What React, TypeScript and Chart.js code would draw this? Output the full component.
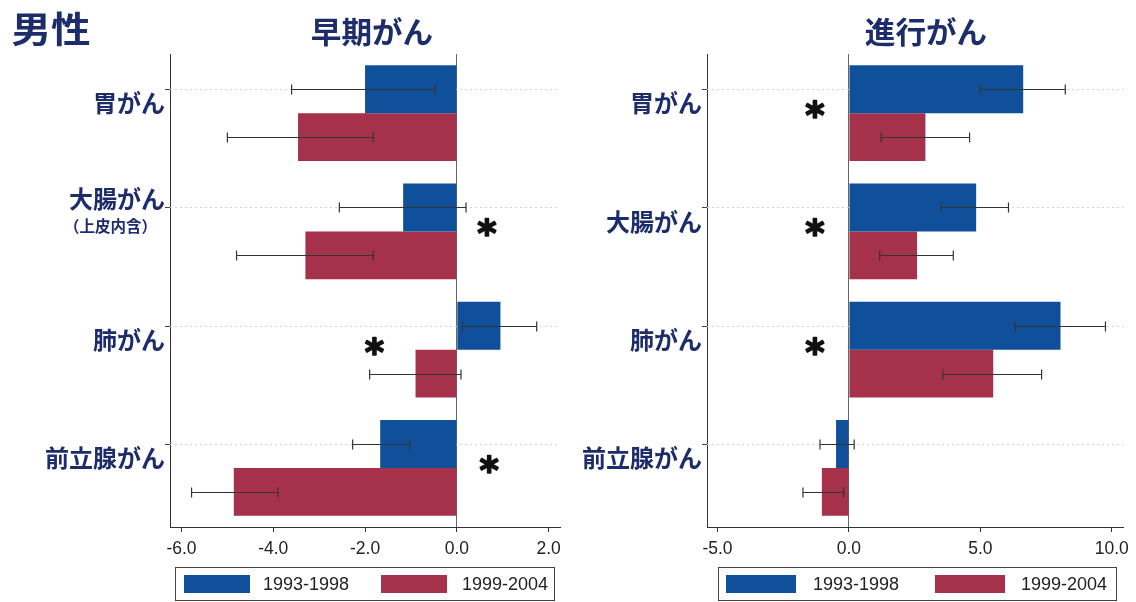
import React, { useEffect, useRef } from 'react';
import { Chart, registerables } from 'chart.js';

Chart.register(...registerables);

// Cancer sites and periods
const categories = ['胃がん', '大腸がん', '肺がん', '前立腺がん'];
const earlySubLabels = ['', '（上皮内含）', '', ''];
const advancedSubLabels = ['', '', '', ''];
const periods = ['1993-1998', '1999-2004'];

// 早期がん: annual percent change with 95% CI
const earlyP1 = [-2.0, -1.17, 0.95, -1.67];
const earlyP1Lo = [-3.6, -2.56, 0.12, -2.27];
const earlyP1Hi = [-0.47, 0.2, 1.74, -1.02];
const earlyP2 = [-3.46, -3.3, -0.9, -4.86];
const earlyP2Lo = [-5.0, -4.8, -1.9, -5.78];
const earlyP2Hi = [-1.82, -1.82, 0.09, -3.9];
// x position of the significance mark (null = not significant)
const earlySig: (number | null)[] = [null, 0.65, -1.8, 0.7];

// 進行がん
const advP1 = [6.63, 4.84, 8.05, -0.49];
const advP1Lo = [4.99, 3.52, 6.32, -1.1];
const advP1Hi = [8.23, 6.07, 9.76, 0.2];
const advP2 = [2.91, 2.59, 5.49, -1.03];
const advP2Lo = [1.23, 1.17, 3.57, -1.75];
const advP2Hi = [4.59, 3.97, 7.33, -0.2];
const advSig: (number | null)[] = [-1.3, -1.3, -1.3, null];

// axis ranges
const earlyMin = -6.25;
const earlyMax = 2.25;
const earlyStep = 2;
const advMin = -5.4;
const advMax = 10.45;
const advStep = 5;

const NAVY = '#1d2d6b';
const BLUE = '#10509a';
const RED = '#a5314b';
const JP_FONT = '"Noto Sans CJK JP", "Noto Sans CJK SC", sans-serif';
const NUM_FONT = '"Liberation Sans", Arial, sans-serif';

type Panel = {
  p1: number[]; p1Lo: number[]; p1Hi: number[];
  p2: number[]; p2Lo: number[]; p2Hi: number[];
  sig: (number | null)[];
  subLabels: string[];
  min: number; max: number; step: number;
  axisWidth: number;
};

function decorPlugin(panel: Panel) {
  return {
    id: 'decor',
    beforeDatasetsDraw(chart: any) {
      const { ctx, chartArea: a } = chart;
      const meta = chart.getDatasetMeta(0);
      ctx.save();
      ctx.lineWidth = 1;
      ctx.strokeStyle = '#d2d2d2';
      ctx.setLineDash([2, 3]);
      meta.data.forEach((bar: any) => {
        const y = Math.round(bar.y) + 0.5;
        ctx.beginPath();
        ctx.moveTo(a.left, y);
        ctx.lineTo(a.right, y);
        ctx.stroke();
      });
      ctx.setLineDash([]);
      ctx.strokeStyle = '#444';
      meta.data.forEach((bar: any) => {
        const y = Math.round(bar.y) + 0.5;
        ctx.beginPath();
        ctx.moveTo(a.left - 5, y);
        ctx.lineTo(a.left, y);
        ctx.stroke();
      });
      ctx.restore();
    },
    afterDatasetsDraw(chart: any) {
      const { ctx, chartArea: a, scales } = chart;
      const xs = scales.x;
      const ys = scales.y;
      ctx.save();
      // error bars
      const ranges = [
        [panel.p1Lo, panel.p1Hi],
        [panel.p2Lo, panel.p2Hi],
      ];
      ctx.strokeStyle = '#333';
      ctx.lineWidth = 1.2;
      ranges.forEach(([lo, hi], d) => {
        const meta = chart.getDatasetMeta(d);
        meta.data.forEach((bar: any, i: number) => {
          const y = Math.round(bar.y) + 0.5;
          const x1 = xs.getPixelForValue(lo[i]);
          const x2 = xs.getPixelForValue(hi[i]);
          ctx.beginPath();
          ctx.moveTo(x1, y);
          ctx.lineTo(x2, y);
          ctx.moveTo(x1, y - 5);
          ctx.lineTo(x1, y + 5);
          ctx.moveTo(x2, y - 5);
          ctx.lineTo(x2, y + 5);
          ctx.stroke();
        });
      });

      // significance marks
      ctx.fillStyle = '#111';
      ctx.strokeStyle = '#111';
      ctx.lineWidth = 1.6;
      ctx.lineJoin = 'round';
      ctx.font = `bold 37px "DejaVu Sans", sans-serif`;
      ctx.textAlign = 'left';
      ctx.textBaseline = 'alphabetic';
      const m = ctx.measureText('*');
      panel.sig.forEach((sx, i) => {
        if (sx === null) return;
        const cx = xs.getPixelForValue(sx);
        const cy = ys.getPixelForValue(i) - 4;
        const bx = cx - (m.actualBoundingBoxRight - m.actualBoundingBoxLeft) / 2;
        const by = cy - (m.actualBoundingBoxDescent - m.actualBoundingBoxAscent) / 2;
        ctx.fillText('*', bx, by);
        ctx.strokeText('*', bx, by);
      });

      // category labels
      ctx.fillStyle = NAVY;
      ctx.textAlign = 'right';
      ctx.textBaseline = 'middle';
      categories.forEach((label, i) => {
        const c = ys.getPixelForValue(i);
        const sub = panel.subLabels[i];
        ctx.font = `bold 24px ${JP_FONT}`;
        if (sub) {
          ctx.fillText(label, a.left - 5, c - 33);
          ctx.font = `bold 15.5px ${JP_FONT}`;
          ctx.fillText(sub, a.left - 13, c - 5);
        } else {
          ctx.fillText(label, a.left - 5, c - 10);
        }
      });
      ctx.restore();
    },
  };
}

function buildChart(canvas: HTMLCanvasElement, panel: Panel) {
  return new Chart(canvas, {
    type: 'bar',
    data: {
      labels: categories,
      datasets: [
        { label: periods[0], data: panel.p1, backgroundColor: BLUE, borderWidth: 0 },
        { label: periods[1], data: panel.p2, backgroundColor: RED, borderWidth: 0 },
      ],
    },
    options: {
      indexAxis: 'y',
      responsive: false,
      animation: false,
      devicePixelRatio: 1,
      layout: { padding: { top: 54, right: 7, bottom: 35, left: 0 } },
      datasets: { bar: { categoryPercentage: 0.81, barPercentage: 1 } },
      plugins: { legend: { display: false }, tooltip: { enabled: false }, title: { display: false } },
      scales: {
        y: {
          type: 'category',
          offset: true,
          grid: { display: false },
          border: { display: true, color: '#333', width: 1 },
          ticks: { display: false },
          afterFit: (s: any) => { s.width = panel.axisWidth; },
        },
        x: {
          type: 'linear',
          min: panel.min,
          max: panel.max,
          grid: {
            drawOnChartArea: true,
            color: (c: any) => (c.tick && c.tick.value === 0 ? '#666' : 'rgba(0,0,0,0)'),
            tickColor: '#333',
            tickLength: 5,
          },
          border: { display: true, color: '#333', width: 1 },
          ticks: {
            stepSize: panel.step,
            includeBounds: false,
            autoSkip: false,
            maxRotation: 0,
            padding: 7,
            color: '#222',
            font: { family: NUM_FONT, size: 17.5 },
            callback: (v: any) => Number(v).toFixed(1),
          },
          afterFit: (s: any) => { s.height = 40; },
        },
      },
    } as any,
    plugins: [decorPlugin(panel) as any],
  });
}

function Legend({ left, width, sw, pos }: { left: number; width: number; sw: number; pos: number[] }) {
  const text: React.CSSProperties = {
    position: 'absolute', top: 0, height: '100%', display: 'flex', alignItems: 'center',
    fontFamily: NUM_FONT, fontSize: 18, color: '#222', whiteSpace: 'nowrap',
  };
  const swatch = (color: string): React.CSSProperties => ({
    position: 'absolute', top: 7, width: sw, height: 18, background: color,
  });
  return (
    <div style={{ position: 'absolute', left, top: 567, width, height: 34, border: '1px solid #444', boxSizing: 'border-box' }}>
      <div style={{ ...swatch(BLUE), left: pos[0] }} />
      <div style={{ ...text, left: pos[1] }}>{periods[0]}</div>
      <div style={{ ...swatch(RED), left: pos[2] }} />
      <div style={{ ...text, left: pos[3] }}>{periods[1]}</div>
    </div>
  );
}

export default function App() {
  const leftRef = useRef<HTMLCanvasElement>(null);
  const rightRef = useRef<HTMLCanvasElement>(null);

  useEffect(() => {
    document.body.style.margin = '0';
    const early = buildChart(leftRef.current!, {
      p1: earlyP1, p1Lo: earlyP1Lo, p1Hi: earlyP1Hi,
      p2: earlyP2, p2Lo: earlyP2Lo, p2Hi: earlyP2Hi,
      sig: earlySig, subLabels: earlySubLabels,
      min: earlyMin, max: earlyMax, step: earlyStep, axisWidth: 170,
    });
    const adv = buildChart(rightRef.current!, {
      p1: advP1, p1Lo: advP1Lo, p1Hi: advP1Hi,
      p2: advP2, p2Lo: advP2Lo, p2Hi: advP2Hi,
      sig: advSig, subLabels: advancedSubLabels,
      min: advMin, max: advMax, step: advStep, axisWidth: 139,
    });
    return () => { early.destroy(); adv.destroy(); };
  }, []);

  const title = (txt: string, cx: number, cy: number, size: number, sx: number): React.ReactNode => (
    <div style={{
      position: 'absolute', left: cx, top: cy, transform: `translate(-50%, -50%) scaleX(${sx})`,
      fontFamily: JP_FONT, fontWeight: 700, fontSize: size, lineHeight: 1, color: NAVY, whiteSpace: 'nowrap',
    }}>{txt}</div>
  );

  return (
    <div style={{ position: 'absolute', left: 0, top: 0, width: 1136, height: 602, background: '#fff', overflow: 'hidden' }}>
      <canvas ref={leftRef} width={568} height={602} style={{ position: 'absolute', left: 0, top: 0, width: 568, height: 602 }} />
      <canvas ref={rightRef} width={568} height={602} style={{ position: 'absolute', left: 568, top: 0, width: 568, height: 602 }} />
      {title('男性', 51, 27, 36, 1.1)}
      {title('早期がん', 372, 30, 30, 1.02)}
      {title('進行がん', 926, 30, 30, 1.02)}
      <Legend left={175} width={380} sw={66} pos={[8, 87, 205, 286]} />
      <Legend left={718} width={399} sw={70} pos={[7, 94, 216, 302]} />
    </div>
  );
}
